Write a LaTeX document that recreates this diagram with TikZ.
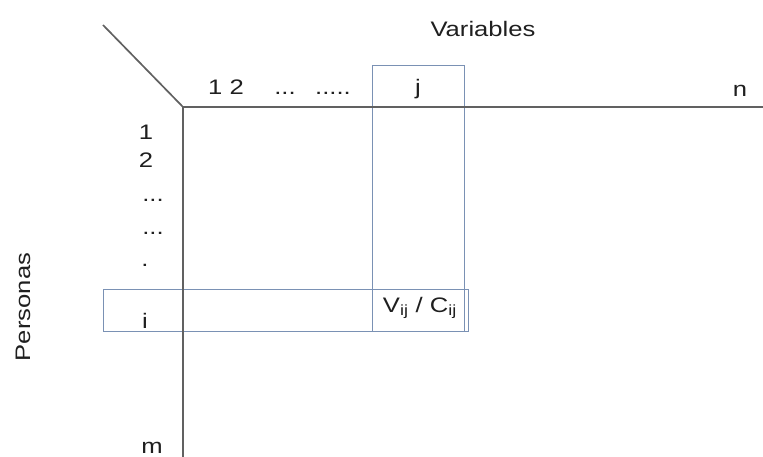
\documentclass[tikz,border=0pt]{standalone}
\usepackage{fontspec}
\usepackage{graphicx}
\setmainfont{Liberation Sans}
\newcommand\widetxt[1]{\scalebox{1.22}[1]{#1}}
\definecolor{boxblue}{RGB}{122,145,180}
\begin{document}
\begin{tikzpicture}[x=1pt,y=-1pt,
  axis/.style={draw=black!62,line width=1.7pt},
  selbox/.style={draw=boxblue,line width=1pt},
  lbl/.style={inner sep=0pt,font=\fontsize{21}{24}\selectfont,text=black!88}]
\useasboundingbox (0,0) rectangle (763,457);
% coordinates
\coordinate (diag) at (103,25);
\coordinate (orig) at (183,107);
\coordinate (xend) at (763,107);
\coordinate (yend) at (183,457);
% selection boxes
\draw[selbox] (372,66) rectangle (464,331);
\draw[selbox] (103,289) rectangle (468,331);
% axes
\draw[axis] (diag) -- (orig);
\draw[axis] (orig) -- (xend);
\draw[axis] (orig) -- (yend);
% labels
\node[lbl] (vars) at (483,29) {\widetxt{Variables}};
\node[lbl,anchor=base] (c12) at (226,95) {\widetxt{1 2}};
\node[lbl,anchor=base] (cd1) at (285,95) {\widetxt{...}};
\node[lbl,anchor=base] (cd2) at (333,95) {\widetxt{.....}};
\node[lbl,anchor=base] (cj) at (418,95) {\widetxt{j}};
\node[lbl,anchor=base] (cn) at (740,97) {\widetxt{n}};
\node[lbl,anchor=base] (r1) at (146,140) {\widetxt{1}};
\node[lbl,anchor=base] (r2) at (146,168) {\widetxt{2}};
\node[lbl,anchor=base] (rd1) at (153,202) {\widetxt{...}};
\node[lbl,anchor=base] (rd2) at (153,234) {\widetxt{...}};
\node[lbl,anchor=base] (rd3) at (145,266) {\widetxt{.}};
\node[lbl,anchor=base] (ri) at (145,328) {\widetxt{i}};
\node[lbl,anchor=base] (rm) at (152,453) {\widetxt{m}};
\node[lbl,anchor=base] (vc) at (420,312) {\widetxt{V\textsubscript{ij} / C\textsubscript{ij}}};
\node[lbl,rotate=90] (pers) at (23,307) {\widetxt{Personas}};
\end{tikzpicture}
\end{document}
